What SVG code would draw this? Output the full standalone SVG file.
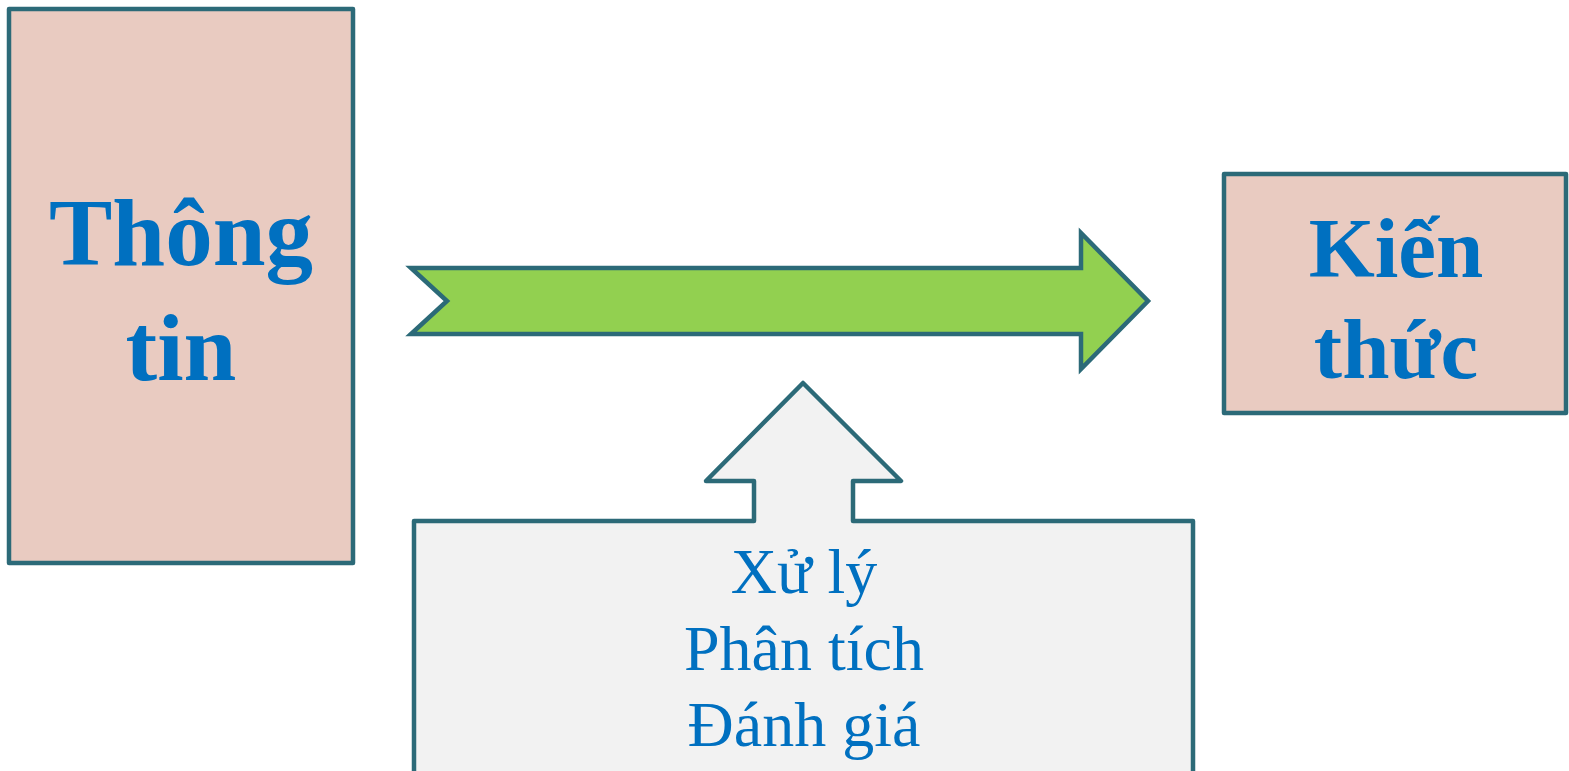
<svg xmlns="http://www.w3.org/2000/svg" width="1569" height="771" viewBox="0 0 1569 771">
<style>
.box{fill:#E9CBC1;stroke:#2C6A78;stroke-width:4.5;stroke-linejoin:round}
.big{font-family:"Liberation Serif","Times New Roman",serif;font-weight:bold;fill:#0070C0;text-anchor:middle}
.small{font-family:"Liberation Serif","Times New Roman",serif;fill:#0070C0;text-anchor:middle;font-size:64px}
</style>
<rect width="1569" height="771" fill="#FFFFFF"/>
<g id="node-thong-tin">
<rect class="box" x="9" y="9" width="344" height="554"/>
<text class="big" font-size="95" x="181" y="265">Thông</text>
<text class="big" font-size="95" x="181" y="380">tin</text>
</g>
<g id="node-kien-thuc">
<rect class="box" x="1224" y="174" width="342" height="239"/>
<text class="big" font-size="85" x="1396" y="277">Kiến</text>
<text class="big" font-size="85" x="1396" y="378">thức</text>
</g>
<g id="connectors">
<path d="M411,268 L1081,268 L1081,233 L1148,301 L1081,369 L1081,334 L411,334 L447,301 Z" fill="#92D050" stroke="#2C6A78" stroke-width="4.5" stroke-linejoin="miter"/>
</g>
<g id="node-xu-ly">
<path d="M414,790 L414,521 L754,521 L754,481 L706,481 L803,383 L901,481 L853,481 L853,521 L1193,521 L1193,790" fill="#F2F2F2" stroke="#2C6A78" stroke-width="4.5" stroke-linejoin="round"/>
<text class="small" x="804" y="593">Xử lý</text>
<text class="small" x="804" y="670">Phân tích</text>
<text class="small" x="804" y="746">Đánh giá</text>
</g>
</svg>
